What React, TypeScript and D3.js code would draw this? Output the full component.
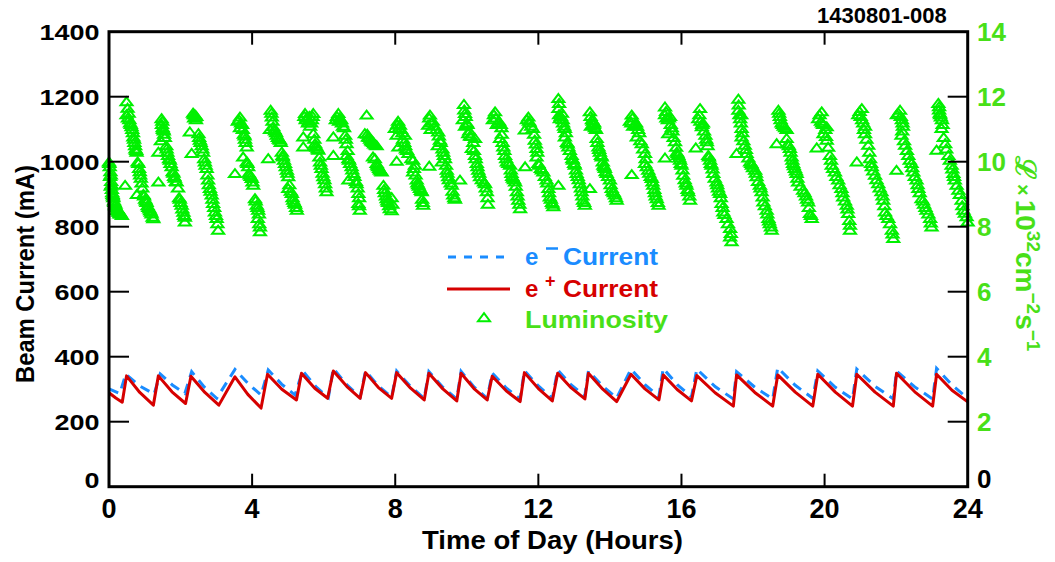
import React from "react";
import * as d3 from "d3";

// ---------- DATA ----------
// time of day (hours), e+ beam current (mA)
const ePlusCurrent: [number, number][] = [
  [0, 289], [0.19, 273], [0.37, 260], [0.49, 341], [0.86, 290], [1.24, 251],
  [1.38, 341], [1.76, 292], [2.14, 256], [2.29, 340], [2.68, 290], [3.07, 251],
  [3.52, 338], [3.88, 284], [4.25, 242], [4.43, 346], [4.83, 300], [5.24, 267],
  [5.38, 349], [5.75, 303], [6.11, 272], [6.27, 356], [6.65, 308], [7.02, 272],
  [7.17, 351], [7.53, 305], [7.9, 272], [8.04, 351], [8.43, 303], [8.81, 267],
  [8.94, 349], [9.33, 301], [9.72, 264], [9.84, 349], [10.2, 302], [10.57, 267],
  [10.71, 340], [11.1, 295], [11.49, 262], [11.61, 351], [12.0, 302], [12.39, 264],
  [12.54, 349], [12.92, 304], [13.3, 270], [13.4, 349], [13.8, 300], [14.19, 262],
  [14.59, 346], [14.98, 301], [15.37, 267], [15.49, 344], [15.88, 299], [16.28, 264],
  [16.43, 342], [16.94, 289], [17.45, 248], [17.54, 344], [18.05, 290], [18.55, 248],
  [18.69, 344], [19.18, 291], [19.67, 248], [19.81, 346], [20.3, 291], [20.78, 248],
  [20.9, 346], [21.41, 291], [21.92, 248], [22.01, 349], [22.52, 292], [23.02, 248],
  [23.13, 346], [23.56, 297], [24.0, 261],
];

// time of day (hours), e- beam current (mA)
const eMinusCurrent: [number, number][] = [
  [0, 301], [0.3, 287], [0.47, 346], [0.86, 310], [1.26, 285], [1.43, 347],
  [1.77, 313], [2.12, 287], [2.31, 354], [2.66, 307], [3.01, 272], [3.52, 361],
  [3.9, 316], [4.25, 282], [4.45, 359], [4.83, 315], [5.2, 282], [5.41, 357],
  [5.78, 308], [6.13, 274], [6.27, 364], [6.65, 313], [7.02, 276], [7.17, 356],
  [7.53, 310], [7.9, 276], [8.04, 356], [8.43, 308], [8.81, 272], [8.94, 354],
  [9.33, 306], [9.72, 270], [9.84, 355], [10.2, 307], [10.57, 272], [10.71, 350],
  [11.1, 304], [11.49, 270], [11.61, 357], [12.0, 310], [12.39, 272], [12.54, 359],
  [12.92, 313], [13.3, 280], [13.4, 356], [13.8, 309], [14.19, 273], [14.59, 362],
  [14.98, 314], [15.37, 278], [15.49, 364], [15.88, 314], [16.28, 277], [16.43, 362],
  [16.94, 308], [17.45, 270], [17.54, 354], [18.05, 306], [18.55, 270], [18.69, 366],
  [19.18, 312], [19.67, 272], [19.81, 356], [20.3, 306], [20.78, 270], [20.9, 362],
  [21.41, 309], [21.92, 270], [22.01, 356], [22.52, 307], [23.02, 270], [23.13, 364],
  [23.56, 313], [24.0, 272],
];

// time of day (hours), luminosity (10^32 cm^-2 s^-1) — main reads
const luminosity: [number, number][] = [
  [0.0, 10.0], [0.02, 9.85], [0.04, 9.7], [0.03, 9.55], [0.06, 9.4], [0.05, 9.25], [0.08, 9.15],
  [0.1, 9.0], [0.12, 8.9], [0.15, 8.75], [0.18, 8.7], [0.2, 8.6], [0.24, 8.55], [0.27, 8.5],
  [0.3, 8.45], [0.33, 8.4], [0.36, 8.35], [0.45, 9.28],
  [0.49, 11.85], [0.52, 11.65], [0.49, 11.45], [0.53, 11.35], [0.59, 11.2], [0.63, 11.08],
  [0.67, 10.9], [0.68, 10.77], [0.73, 10.5], [0.77, 10.3], [0.74, 10.4], [0.82, 9.95],
  [0.84, 9.8], [0.87, 9.6], [0.91, 9.35], [0.78, 9.0], [0.96, 9.0], [1.01, 8.85],
  [1.05, 8.75], [1.1, 8.6], [1.15, 8.5], [1.19, 8.4], [1.24, 8.25],
  [1.47, 11.33], [1.48, 11.15], [1.51, 11.0], [1.54, 10.85], [1.45, 10.65], [1.38, 10.3],
  [1.61, 10.4], [1.65, 10.2], [1.7, 10.05], [1.75, 9.85], [1.8, 9.65], [1.84, 9.5],
  [1.89, 9.38], [1.38, 9.38], [1.93, 9.2], [1.98, 8.85], [2.03, 8.67], [2.08, 8.45],
  [2.12, 8.3], [2.12, 8.15],
  [2.35, 11.5], [2.4, 11.45], [2.38, 11.35], [2.43, 11.3], [2.26, 10.92], [2.5, 10.87],
  [2.54, 10.67], [2.59, 10.5], [2.31, 10.26], [2.63, 10.3], [2.68, 10.0], [2.73, 9.8],
  [2.75, 9.6], [2.77, 9.44], [2.82, 9.18], [2.87, 8.98], [2.91, 8.72], [2.96, 8.46],
  [3.01, 8.26], [3.05, 7.9],
  [3.52, 9.64], [3.66, 11.38], [3.6, 11.25], [3.72, 11.15], [3.66, 11.05], [3.77, 10.85],
  [3.8, 10.7], [3.85, 10.46], [3.75, 10.15], [3.85, 10.0], [3.89, 9.85], [3.91, 9.65],
  [3.99, 9.49], [4.03, 9.28], [4.08, 8.87], [4.13, 8.67], [4.17, 8.51], [4.16, 8.26],
  [4.22, 8.0], [4.22, 7.85],
  [4.52, 11.59], [4.55, 11.38], [4.59, 11.08], [4.5, 11.0], [4.64, 10.95], [4.69, 10.82],
  [4.72, 10.75], [4.78, 10.67], [4.45, 10.1], [4.83, 10.3], [4.86, 10.15], [4.92, 9.95],
  [4.97, 9.74], [5.01, 9.54], [5.01, 9.18], [5.11, 9.03], [5.15, 8.82], [5.2, 8.7],
  [5.25, 8.51],
  [5.48, 11.49], [5.71, 11.49], [5.5, 11.3], [5.56, 11.2], [5.62, 11.1], [5.67, 11.3],
  [5.43, 10.77], [5.71, 10.87], [5.43, 10.46], [5.76, 10.56], [5.8, 10.45], [5.85, 10.36],
  [5.9, 10.0], [5.94, 9.8], [5.99, 9.54], [6.04, 9.33], [6.08, 9.08],
  [6.41, 11.49], [6.34, 11.3], [6.45, 11.35], [6.51, 11.2], [6.57, 11.05], [6.27, 10.77],
  [6.6, 10.82], [6.64, 10.56], [6.27, 10.2], [6.64, 10.2], [6.71, 10.05], [6.78, 9.85],
  [6.83, 9.64], [6.69, 9.44], [6.92, 9.33], [6.95, 9.2], [6.97, 9.03], [6.97, 8.72],
  [7.01, 8.51],
  [7.2, 11.44], [7.15, 10.87], [7.24, 10.77], [7.3, 10.7], [7.35, 10.62], [7.41, 10.55],
  [7.48, 10.5], [7.38, 10.15], [7.48, 9.95], [7.52, 9.85], [7.57, 9.75], [7.62, 9.69],
  [7.67, 9.28], [7.71, 9.05], [7.76, 8.87], [7.8, 8.75], [7.85, 8.56], [7.9, 8.9], [7.9, 8.5],
  [7.99, 11.03], [8.13, 11.13], [8.08, 11.25], [8.16, 11.0], [8.04, 10.82], [8.27, 10.82],
  [8.09, 10.46], [8.25, 10.6], [8.3, 10.4], [8.37, 10.26], [8.04, 10.02], [8.5, 10.05],
  [8.55, 9.9], [8.5, 9.69], [8.6, 9.44], [8.64, 9.3], [8.69, 9.18], [8.74, 9.08],
  [8.75, 8.85], [8.78, 8.67],
  [8.97, 11.44], [8.92, 11.13], [8.99, 11.0], [9.05, 11.25], [9.2, 10.92], [9.25, 10.67],
  [9.19, 10.5], [9.34, 10.3], [9.3, 10.0], [8.95, 9.87], [9.39, 10.1], [9.44, 9.74],
  [9.48, 9.54], [9.81, 9.44], [9.58, 9.28], [9.62, 8.98], [9.67, 8.85],
  [9.92, 11.77], [9.95, 11.49], [9.89, 11.3], [10.0, 11.2], [9.95, 11.1], [10.04, 10.87],
  [10.09, 10.8], [10.23, 10.72], [10.14, 10.41], [10.23, 10.2], [10.28, 9.95], [10.32, 9.74],
  [10.37, 9.54], [10.51, 9.33], [10.56, 9.08], [10.59, 8.7],
  [10.79, 11.54], [10.73, 11.3], [10.84, 11.15], [10.97, 11.05], [10.9, 11.25], [10.93, 10.72],
  [11.02, 10.46], [11.07, 10.2], [11.12, 10.0], [11.21, 9.9], [11.63, 9.85], [11.25, 9.64],
  [11.29, 9.5], [11.35, 9.38], [11.4, 9.08], [11.44, 8.82], [11.49, 8.56],
  [11.72, 11.38], [11.62, 10.98], [11.85, 11.03], [11.76, 11.2], [11.9, 10.67], [11.95, 10.41],
  [11.95, 10.15], [12.0, 9.95], [12.07, 9.8], [12.14, 9.69], [12.23, 9.44], [12.56, 9.28],
  [12.28, 9.18], [12.32, 8.92], [12.38, 8.75], [12.42, 8.62],
  [12.56, 11.95], [12.56, 11.64], [12.6, 11.33], [12.66, 11.5], [12.69, 11.2], [12.74, 11.03],
  [12.74, 10.77], [12.8, 10.6], [12.84, 10.46], [12.93, 10.2], [12.97, 10.05], [13.02, 9.9],
  [13.07, 9.64], [13.16, 9.33], [13.44, 9.18], [13.21, 9.08], [13.25, 8.82], [13.3, 8.67],
  [13.44, 11.54], [13.5, 11.3], [13.55, 11.15], [13.61, 11.0], [13.47, 11.1], [13.63, 10.72],
  [13.68, 10.46], [13.72, 10.3], [13.77, 10.15], [13.82, 9.9], [13.86, 9.8], [13.91, 9.64],
  [14.0, 9.44], [14.05, 9.18], [14.14, 8.98], [14.19, 8.82],
  [14.61, 11.44], [14.56, 11.25], [14.65, 11.1], [14.73, 11.2], [14.79, 11.0], [14.75, 10.77],
  [14.89, 10.56], [14.61, 9.61], [14.98, 10.26], [14.98, 9.95], [15.07, 9.74], [15.17, 9.49],
  [15.21, 9.28], [15.26, 9.05], [15.31, 8.87], [15.36, 8.67],
  [15.54, 11.69], [15.54, 11.45], [15.62, 11.3], [15.68, 11.4], [15.63, 10.87], [15.73, 11.05],
  [15.82, 10.62], [15.54, 10.12], [15.87, 10.3], [15.91, 10.2], [15.96, 10.05], [16.0, 9.9],
  [16.05, 9.59], [16.14, 9.28], [16.19, 9.08], [16.24, 8.82],
  [16.52, 11.64], [16.47, 11.33], [16.57, 11.08], [16.6, 11.2], [16.67, 10.82], [16.71, 10.62],
  [16.4, 10.43], [16.75, 10.2], [16.8, 10.05], [16.84, 9.9], [16.89, 9.64], [16.98, 9.38],
  [17.02, 9.2], [17.08, 9.03], [17.12, 8.72], [17.17, 8.46], [17.26, 8.26], [17.36, 7.95],
  [17.36, 7.69], [17.4, 7.54],
  [17.59, 11.93], [17.59, 11.59], [17.64, 11.33], [17.67, 11.45], [17.68, 11.03], [17.68, 10.77],
  [17.77, 10.51], [17.54, 10.26], [17.82, 10.26], [17.92, 10.0], [17.97, 9.9], [18.06, 9.74],
  [18.1, 9.54], [18.19, 9.28], [18.24, 9.08], [18.29, 8.77], [18.38, 8.51], [18.43, 8.26],
  [18.47, 8.1], [18.52, 7.9],
  [18.71, 11.59], [18.75, 11.4], [18.8, 11.2], [18.86, 11.1], [18.94, 11.0], [18.66, 10.56],
  [18.94, 10.72], [19.03, 10.41], [19.08, 10.15], [19.12, 9.95], [19.17, 9.8], [19.22, 9.64],
  [19.26, 9.38], [19.4, 9.13], [19.48, 8.95], [19.54, 8.77], [19.59, 8.41], [19.64, 8.26],
  [19.92, 11.54], [19.82, 11.33], [19.93, 11.2], [20.06, 11.08], [19.97, 10.87], [20.06, 10.67],
  [19.78, 10.43], [20.15, 10.2], [20.2, 9.9], [20.29, 9.69], [20.38, 9.44], [20.47, 9.18],
  [20.52, 8.92], [20.62, 8.67], [20.66, 8.41], [20.71, 8.05], [20.71, 7.9],
  [21.04, 11.64], [20.94, 11.45], [21.05, 11.3], [21.13, 11.1], [21.13, 10.87], [21.22, 10.51],
  [20.9, 10.0], [21.27, 10.1], [21.32, 9.85], [21.41, 9.59], [21.5, 9.33], [21.59, 9.08],
  [21.64, 8.82], [21.69, 8.46], [21.78, 8.26], [21.88, 7.9], [21.92, 7.64],
  [22.11, 11.59], [22.02, 11.45], [22.16, 11.3], [22.15, 10.82], [22.19, 11.1], [22.25, 10.51],
  [22.01, 9.74], [22.34, 10.2], [22.43, 9.95], [22.48, 9.69], [22.57, 9.44], [22.62, 9.18],
  [22.71, 8.87], [22.78, 8.7], [22.85, 8.51], [22.95, 8.26], [22.99, 8.0],
  [23.18, 11.8], [23.2, 11.6], [23.23, 11.45], [23.28, 11.3], [23.27, 11.03], [23.13, 10.36],
  [23.37, 10.56], [23.46, 10.2], [23.55, 9.9], [23.6, 9.64], [23.64, 9.44], [23.74, 9.13],
  [23.83, 8.82], [23.88, 8.51], [23.97, 8.31], [24.0, 8.15],
];

// additional luminosity reads inside the dense stacks
const luminosityDense: [number, number][] = [
  [0.01, 9.95], [0.05, 9.6], [0.07, 9.3], [0.09, 9.05], [0.11, 8.95], [0.14, 8.8], [0.17, 8.65],
  [0.22, 8.5], [0.26, 8.45], [0.29, 8.4],
  [0.55, 11.5], [0.57, 11.3], [0.61, 11.15], [0.65, 11.0], [0.7, 10.7], [0.71, 10.6], [0.76, 10.35],
  [0.8, 10.0], [0.86, 9.7], [0.89, 9.5], [0.93, 9.2], [0.98, 8.95], [1.03, 8.8], [1.08, 8.65],
  [1.13, 8.55], [1.17, 8.45], [1.22, 8.3],
  [1.49, 11.25], [1.5, 11.05], [1.53, 10.95], [1.56, 10.75], [1.6, 10.5], [1.63, 10.3], [1.68, 10.1],
  [1.72, 9.95], [1.78, 9.7], [1.82, 9.55], [1.87, 9.4], [1.96, 8.9], [2.0, 8.75], [2.05, 8.55], [2.1, 8.35],
  [2.37, 11.45], [2.41, 11.38], [2.44, 11.4], [2.52, 10.75], [2.56, 10.6], [2.61, 10.4], [2.66, 10.1],
  [2.7, 9.9], [2.79, 9.3], [2.84, 9.1], [2.89, 8.85], [2.94, 8.6], [2.99, 8.35], [3.03, 8.1],
  [3.63, 11.3], [3.69, 11.2], [3.74, 11.0], [3.79, 10.8], [3.82, 10.6], [3.87, 9.95], [3.93, 9.6],
  [3.96, 9.55], [4.01, 9.38], [4.1, 8.8], [4.15, 8.6], [4.19, 8.4], [4.2, 8.1],
  [4.54, 11.5], [4.57, 11.25], [4.62, 11.0], [4.67, 10.9], [4.75, 10.7], [4.8, 10.6], [4.85, 10.2],
  [4.89, 10.05], [4.94, 9.85], [4.99, 9.65], [5.04, 9.3], [5.08, 9.1], [5.13, 8.9], [5.18, 8.75], [5.23, 8.6],
  [5.46, 11.4], [5.52, 11.35], [5.58, 11.25], [5.65, 11.2], [5.6, 11.4], [5.69, 11.4], [5.74, 10.7],
  [5.78, 10.5], [5.83, 10.4], [5.88, 10.15], [5.92, 9.9], [5.97, 9.65], [6.02, 9.45], [6.06, 9.2],
  [6.37, 11.4], [6.43, 11.25], [6.49, 11.3], [6.54, 11.1], [6.62, 10.7], [6.67, 10.35], [6.69, 10.1],
  [6.74, 9.95], [6.8, 9.75], [6.86, 9.55], [6.9, 9.4], [6.99, 8.9], [6.99, 8.65],
  [7.22, 10.85], [7.27, 10.75], [7.33, 10.65], [7.39, 10.6], [7.45, 10.52], [7.43, 10.1], [7.5, 9.9],
  [7.55, 9.8], [7.6, 9.72], [7.69, 9.15], [7.74, 8.95], [7.78, 8.8], [7.83, 8.65], [7.92, 8.7],
  [8.06, 11.15], [8.11, 11.05], [8.2, 10.9], [8.22, 10.7], [8.28, 10.5], [8.33, 10.35], [8.45, 10.1],
  [8.52, 9.8], [8.57, 9.6], [8.62, 9.35], [8.66, 9.25], [8.72, 9.12], [8.77, 8.75],
  [8.95, 11.35], [9.01, 11.2], [9.1, 11.1], [9.15, 11.0], [9.22, 10.8], [9.27, 10.6], [9.32, 10.4],
  [9.36, 10.2], [9.42, 9.9], [9.46, 9.65], [9.5, 9.45], [9.55, 9.35], [9.6, 9.1], [9.65, 8.9],
  [9.93, 11.6], [9.97, 11.4], [10.02, 11.15], [10.07, 10.95], [10.12, 10.78], [10.18, 10.6], [10.2, 10.35],
  [10.25, 10.1], [10.3, 9.85], [10.35, 9.65], [10.42, 9.45], [10.48, 9.38], [10.53, 9.2], [10.58, 8.9],
  [10.76, 11.45], [10.81, 11.35], [10.87, 11.2], [10.95, 11.15], [10.98, 10.85], [11.0, 10.6],
  [11.05, 10.35], [11.1, 10.1], [11.16, 9.95], [11.23, 9.75], [11.27, 9.55], [11.32, 9.45],
  [11.37, 9.25], [11.42, 8.95], [11.47, 8.7],
  [11.68, 11.3], [11.74, 11.25], [11.8, 11.1], [11.88, 10.85], [11.93, 10.55], [11.97, 10.3],
  [12.02, 9.9], [12.1, 9.75], [12.18, 9.55], [12.25, 9.35], [12.3, 9.05], [12.35, 8.85], [12.4, 8.7],
  [12.58, 11.8], [12.58, 11.45], [12.63, 11.4], [12.68, 11.3], [12.72, 11.1], [12.77, 10.9],
  [12.82, 10.55], [12.88, 10.35], [12.95, 10.1], [13.0, 9.95], [13.05, 9.75], [13.1, 9.55],
  [13.13, 9.45], [13.19, 9.2], [13.23, 8.95], [13.28, 8.75],
  [13.46, 11.4], [13.52, 11.25], [13.58, 11.05], [13.56, 11.2], [13.65, 10.6], [13.7, 10.38],
  [13.75, 10.2], [13.8, 10.0], [13.84, 9.85], [13.88, 9.7], [13.95, 9.55], [14.02, 9.3],
  [14.08, 9.1], [14.11, 9.05], [14.17, 8.9],
  [14.63, 11.35], [14.6, 11.2], [14.7, 11.15], [14.76, 11.1], [14.82, 10.9], [14.85, 10.65],
  [14.93, 10.4], [15.0, 10.1], [15.03, 9.85], [15.1, 9.65], [15.14, 9.55], [15.19, 9.38],
  [15.24, 9.15], [15.28, 8.95], [15.34, 8.75],
  [15.57, 11.55], [15.58, 11.35], [15.65, 11.35], [15.7, 11.15], [15.75, 10.95], [15.78, 10.75],
  [15.85, 10.45], [15.89, 10.25], [15.94, 10.12], [15.98, 9.95], [16.03, 9.75], [16.09, 9.45],
  [16.12, 9.35], [16.17, 9.15], [16.22, 8.95],
  [16.5, 11.45], [16.53, 11.25], [16.58, 11.15], [16.63, 10.95], [16.69, 10.7], [16.73, 10.5],
  [16.77, 10.15], [16.82, 9.95], [16.87, 9.78], [16.93, 9.5], [17.0, 9.3], [17.05, 9.1],
  [17.1, 8.9], [17.15, 8.6], [17.2, 8.38], [17.3, 8.1], [17.38, 7.8],
  [17.6, 11.75], [17.62, 11.45], [17.66, 11.2], [17.7, 10.9], [17.73, 10.65], [17.8, 10.38],
  [17.87, 10.12], [17.95, 9.95], [18.0, 9.82], [18.08, 9.65], [18.14, 9.4], [18.21, 9.2],
  [18.27, 8.92], [18.33, 8.65], [18.4, 8.4], [18.45, 8.18], [18.5, 8.0],
  [18.73, 11.5], [18.77, 11.3], [18.83, 11.15], [18.9, 11.05], [18.97, 10.55], [19.0, 10.5],
  [19.05, 10.3], [19.1, 10.05], [19.14, 9.88], [19.2, 9.72], [19.24, 9.5], [19.33, 9.25],
  [19.44, 9.05], [19.51, 8.85], [19.56, 8.6], [19.62, 8.35],
  [19.86, 11.45], [19.9, 11.25], [19.96, 11.15], [20.02, 11.0], [20.04, 10.78], [20.1, 10.45],
  [20.18, 10.05], [20.24, 9.8], [20.33, 9.55], [20.42, 9.3], [20.5, 9.05], [20.57, 8.8],
  [20.64, 8.55], [20.69, 8.2],
  [20.98, 11.55], [21.01, 11.4], [21.08, 11.2], [21.1, 11.0], [21.17, 10.7], [21.25, 10.3],
  [21.3, 9.95], [21.36, 9.72], [21.45, 9.45], [21.54, 9.2], [21.62, 8.95], [21.67, 8.65],
  [21.73, 8.35], [21.83, 8.1], [21.9, 7.78],
  [22.06, 11.5], [22.13, 11.4], [22.18, 11.2], [22.17, 10.95], [22.22, 10.65], [22.3, 10.35],
  [22.38, 10.05], [22.45, 9.82], [22.52, 9.55], [22.6, 9.3], [22.66, 9.05], [22.75, 8.8],
  [22.82, 8.6], [22.9, 8.4], [22.97, 8.12],
  [23.2, 11.7], [23.22, 11.5], [23.25, 11.38], [23.3, 11.15], [23.33, 10.75], [23.4, 10.4],
  [23.5, 10.05], [23.57, 9.78], [23.62, 9.55], [23.69, 9.28], [23.78, 9.0], [23.85, 8.65],
  [23.92, 8.42],
];

const xTicks = [0, 4, 8, 12, 16, 20, 24];
const currentTicks = [0, 200, 400, 600, 800, 1000, 1200, 1400];
const lumTicks = [0, 2, 4, 6, 8, 10, 12, 14];

// ---------- LAYOUT ----------
const W = 1055;
const H = 562;
const L = 109;
const R = 967.7;
const T = 31.7;
const B = 486.7;

const FONT = "'Liberation Sans', Arial, Helvetica, sans-serif";
const BLUE = "#1a8cff";
const RED = "#d60000";
const TRI = "#00f000";
const GREEN_TXT = "#48e018";

export default function App() {
  const x = d3.scaleLinear().domain([0, 24]).range([L, R]);
  const yI = d3.scaleLinear().domain([0, 1400]).range([B, T]);
  const yL = d3.scaleLinear().domain([0, 14]).range([B, T]);

  const line = d3
    .line<[number, number]>()
    .x((d) => x(d[0]))
    .y((d) => yI(d[1]));

  const triPath = "M0,-4.3L6,3.7L-6,3.7Z";
  const allLum = luminosity.concat(luminosityDense);

  return (
    <div style={{ position: "absolute", left: 0, top: 0 }}>
      <svg width={W} height={H} style={{ display: "block", background: "#fff" }} fontFamily={FONT} fontWeight="bold">
        {/* luminosity */}
        <g fill="none" stroke={TRI} strokeWidth={2}>
          {allLum.map((d, i) => (
            <path key={i} d={triPath} transform={`translate(${x(d[0])},${yL(d[1])})`} />
          ))}
        </g>

        {/* currents */}
        <path d={line(eMinusCurrent) || ""} fill="none" stroke={BLUE} strokeWidth={3} strokeDasharray="10,7" />
        <path d={line(ePlusCurrent) || ""} fill="none" stroke={RED} strokeWidth={3} strokeLinejoin="round" />

        {/* frame */}
        <rect x={L} y={T} width={R - L} height={B - T} fill="none" stroke="#000" strokeWidth={3} />

        {/* x ticks */}
        {xTicks.slice(1, -1).map((t) => (
          <g key={t} stroke="#000" strokeWidth={2}>
            <line x1={x(t)} x2={x(t)} y1={B} y2={B - 13} />
            <line x1={x(t)} x2={x(t)} y1={T} y2={T + 13} />
          </g>
        ))}
        {xTicks.map((t) => (
          <text key={t} x={x(t)} y={518} textAnchor="middle" fontSize={27} fill="#000">
            {t}
          </text>
        ))}

        {/* left & right y ticks */}
        {currentTicks.slice(1, -1).map((v) => (
          <g key={v} stroke="#000" strokeWidth={2}>
            <line x1={L} x2={L + 20} y1={yI(v)} y2={yI(v)} />
            <line x1={R - 20} x2={R} y1={yI(v)} y2={yI(v)} />
          </g>
        ))}
        {currentTicks.map((v) => {
          const s = String(v);
          const w = s.length * 15;
          const yy = v === 0 ? 488 : yI(v) + 8;
          return (
            <text key={v} x={99.5 - w} y={yy} fontSize={22} fill="#000" textLength={w} lengthAdjust="spacingAndGlyphs">
              {s}
            </text>
          );
        })}

        {/* right y labels */}
        {lumTicks.map((v) => (
          <text key={v} x={977} y={v === 0 ? 488 : yL(v) + 9.3} fontSize={26} fill={v === 0 ? "#000" : GREEN_TXT}>
            {v}
          </text>
        ))}

        {/* axis titles */}
        <text x={422} y={549} fontSize={25} fill="#000" textLength={261} lengthAdjust="spacingAndGlyphs">
          Time of Day (Hours)
        </text>
        <text transform="translate(34,383) rotate(-90)" fontSize={25} fill="#000" textLength={218} lengthAdjust="spacingAndGlyphs">
          Beam Current (mA)
        </text>
        <text transform="translate(1016,156) rotate(90)" fontSize={28} fill={GREEN_TXT}>
          <tspan>ℒ</tspan>
          <tspan dx={5} fontSize={20}>×</tspan>
          <tspan dx={4}>10</tspan>
          <tspan dy={-11} fontSize={19}>32</tspan>
          <tspan dy={11}>cm</tspan>
          <tspan dy={-11} fontSize={19}>−2</tspan>
          <tspan dy={11}>s</tspan>
          <tspan dy={-11} fontSize={19}>−1</tspan>
        </text>

        <text x={817} y={23} fontSize={22} fill="#000">
          1430801-008
        </text>

        {/* legend */}
        <line x1={448} x2={510} y1={257} y2={257} stroke={BLUE} strokeWidth={3} strokeDasharray="8,8" />
        <text x={525} y={265} fontSize={24} fill={BLUE}>e</text>
        <line x1={546} x2={558} y1={248.5} y2={248.5} stroke={BLUE} strokeWidth={2.5} />
        <text x={563} y={265} fontSize={24} fill={BLUE} textLength={95} lengthAdjust="spacingAndGlyphs">
          Current
        </text>

        <line x1={447} x2={510} y1={289} y2={289} stroke={RED} strokeWidth={3} />
        <text x={525} y={297} fontSize={24} fill={RED}>e</text>
        <text x={545} y={287} fontSize={18} fill={RED}>+</text>
        <text x={563} y={297} fontSize={24} fill={RED} textLength={95} lengthAdjust="spacingAndGlyphs">
          Current
        </text>

        <path d={triPath} transform="translate(484,317.5)" fill="none" stroke={TRI} strokeWidth={2} />
        <text x={525} y={328} fontSize={24} fill={GREEN_TXT} textLength={143} lengthAdjust="spacingAndGlyphs">
          Luminosity
        </text>
      </svg>
    </div>
  );
}
